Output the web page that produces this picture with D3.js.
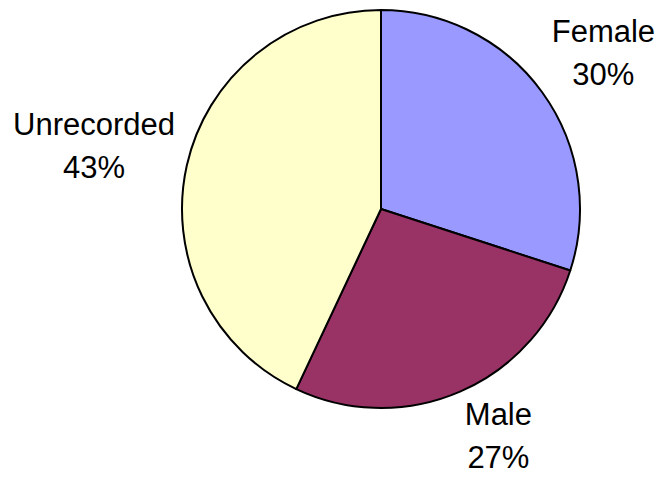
<!DOCTYPE html>
<html>
<head>
<meta charset="utf-8">
<script src="https://cdn.jsdelivr.net/npm/d3@7"></script>
<style>
  html, body { margin: 0; padding: 0; background: #ffffff; }
  svg { display: block; }
</style>
</head>
<body>
<svg id="chart" width="665" height="481"></svg>
<script>
// Gender breakdown shares (percent)
const categories = ["Female", "Male", "Unrecorded"];
const values = [30, 27, 43];
const colors = ["#9999FF", "#993366", "#FFFFCC"];

const width = 665, height = 481;
const cx = 381, cy = 209, radius = 199;
const labelGap = 12;
const fontSize = 31;
const lineGap = 43;

const svg = d3.select("#chart");
const g = svg.append("g").attr("transform", `translate(${cx},${cy})`);

const data = categories.map((c, i) => ({ name: c, value: values[i], color: colors[i] }));

const pie = d3.pie().value(d => d.value).sort(null);
const arcs = pie(data);

const arc = d3.arc().innerRadius(0).outerRadius(radius);

g.selectAll("path.slice")
  .data(arcs)
  .join("path")
  .attr("class", "slice")
  .attr("d", arc)
  .attr("fill", d => d.data.color)
  .attr("stroke", "#000")
  .attr("stroke-width", 2)
  .attr("stroke-linejoin", "round");

const total = d3.sum(values);
const labels = g.selectAll("text.label")
  .data(arcs)
  .join("text")
  .attr("class", "label")
  .attr("text-anchor", "middle")
  .attr("font-family", "Arial, 'Liberation Sans', sans-serif")
  .attr("font-size", fontSize)
  .attr("fill", "#000");

labels.append("tspan")
  .attr("x", 0)
  .attr("y", -lineGap / 2 + fontSize * 0.36)
  .text(d => d.data.name);

labels.append("tspan")
  .attr("x", 0)
  .attr("y", lineGap / 2 + fontSize * 0.36)
  .text(d => Math.round(d.data.value / total * 100) + "%");

// Place each label box just outside the rim: sideways it extends away from the pie,
// vertically its centre sits where the mid-angle ray would meet the box edge
labels.each(function (d) {
  const bb = this.getBBox();
  const w = bb.width;
  const h = lineGap + fontSize * 0.72;
  const a = (d.startAngle + d.endAngle) / 2;
  const s = Math.sin(a), c = -Math.cos(a);
  const r = radius + labelGap;
  const t = Math.min(w / 2 / Math.max(Math.abs(s), 1e-6), h / 2 / Math.max(Math.abs(c), 1e-6));
  const x = s * r + Math.sign(s) * w / 2;
  const y = c * r + c * t;
  d3.select(this).attr("transform", `translate(${x},${y})`);
});
</script>
</body>
</html>
